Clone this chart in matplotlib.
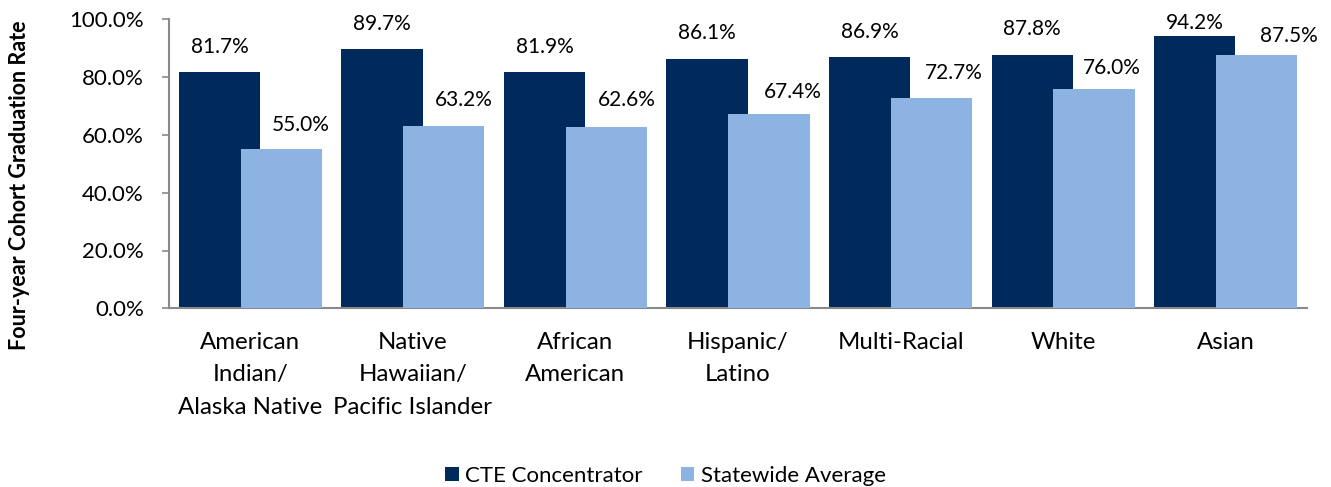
import matplotlib
matplotlib.use("Agg")
import matplotlib.pyplot as plt
from matplotlib.patches import Patch
import numpy as np

# Data
categories = [
    "American\nIndian/\nAlaska Native",
    "Native\nHawaiian/\nPacific Islander",
    "African\nAmerican",
    "Hispanic/\nLatino",
    "Multi-Racial",
    "White",
    "Asian",
]
cte_concentrator = [81.7, 89.7, 81.9, 86.1, 86.9, 87.8, 94.2]
statewide_average = [55.0, 63.2, 62.6, 67.4, 72.7, 76.0, 87.5]
y_ticks = [0, 20, 40, 60, 80, 100]

# Label placement (pixels): vertical gap above bar top, horizontal shift
cte_label_dy = [25, 25, 25, 26, 25, 25.5, 13.5]
avg_label_dy = [24, 25.5, 27, 21.5, 25, 21, 19.5]
avg_label_dx = [20, 20.5, 20, 23.5, 22, 17.5, 32]

DARK = "#00295C"
LIGHT = "#8DB3E2"
SPINE = "#898989"
FONT = "Lato"

plt.rcParams["font.family"] = [FONT, "DejaVu Sans"]

fig = plt.figure(figsize=(13.31, 4.87), dpi=100)
ax = fig.add_axes([169 / 1331, 1 - 308.3 / 487, (1307 - 169) / 1331, (308.3 - 19.3) / 487])

x = np.arange(len(categories))
width = 0.5
offset = 0.19
b1 = ax.bar(x - offset, cte_concentrator, width, color=DARK, zorder=2)
b2 = ax.bar(x + offset, statewide_average, width, color=LIGHT, zorder=3)

for rect, v, dy in zip(b1, cte_concentrator, cte_label_dy):
    ax.annotate(f"{v:.1f}%", (rect.get_x() + rect.get_width() / 2, v),
                xytext=(0, dy), textcoords="offset pixels",
                ha="center", va="center", fontsize=15, color="black",
                annotation_clip=False)
for rect, v, dy, dx in zip(b2, statewide_average, avg_label_dy, avg_label_dx):
    ax.annotate(f"{v:.1f}%", (rect.get_x() + rect.get_width() / 2, v),
                xytext=(dx, dy), textcoords="offset pixels",
                ha="center", va="center", fontsize=15, color="black",
                annotation_clip=False)

ax.set_xlim(-0.5, len(categories) - 0.5)
ax.set_ylim(0, 100)
ax.set_yticks(y_ticks)
ax.set_yticklabels([f"{t:.1f}%" for t in y_ticks], fontsize=16)
ax.set_xticks(x)
ax.set_xticklabels(categories, fontsize=17.3, linespacing=1.68)
ax.tick_params(axis="x", length=0, pad=17)
ax.tick_params(axis="y", length=5, width=1.2, color=SPINE, pad=13)

for s in ["top", "right"]:
    ax.spines[s].set_visible(False)
for s in ["left", "bottom"]:
    ax.spines[s].set_color(SPINE)
    ax.spines[s].set_linewidth(1.5)

fig.text(20 / 1331, 1 - 185 / 487, "Four-year Cohort Graduation Rate",
         rotation=90, ha="center", va="center", fontsize=15.5, fontweight="bold")

handles = [Patch(facecolor=DARK, label="CTE Concentrator"),
           Patch(facecolor=LIGHT, label="Statewide Average")]
fig.legend(handles=handles, loc="center", bbox_to_anchor=(0.5, 1 - 476 / 487),
           ncol=2, frameon=False, fontsize=16, handlelength=0.6, handleheight=0.6,
           handletextpad=0.3, columnspacing=1.7)

fig.savefig("out.png", dpi=100)
